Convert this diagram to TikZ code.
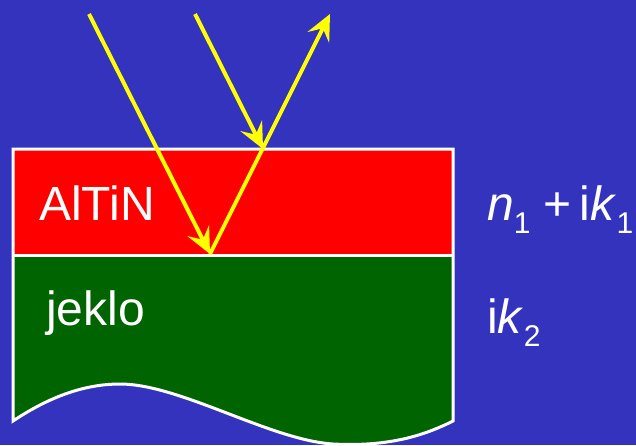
\documentclass[tikz,border=0pt]{standalone}
\usepackage{fontspec}
\setmainfont{Liberation Sans}
\usetikzlibrary{arrows.meta}
\definecolor{bgblue}{RGB}{51,51,190}
\definecolor{layerred}{RGB}{255,0,0}
\definecolor{steelgreen}{RGB}{0,100,0}
\definecolor{rayyellow}{RGB}{255,255,0}
\newcommand{\subnum}[1]{\raisebox{-13pt}{\fontsize{30}{30}\selectfont #1}}
\tikzset{
  ray/.style={draw=rayyellow, line width=4pt, -{Stealth[length=26pt,width=24pt,inset=10pt]}},
  border/.style={draw=white, line width=3pt},
  lbl/.style={text=white, inner sep=0pt, anchor=base west, font=\fontsize{48}{48}\selectfont},
}
\begin{document}
\begin{tikzpicture}[x=1pt,y=1pt]
\fill[bgblue] (0,0) rectangle (636,-445);
\useasboundingbox (0,0) rectangle (636,-445);
% layers
\fill[layerred] (13,-149) rectangle (453,-255);
\fill[steelgreen] (13,-255) -- (453,-255) -- (453,-421)
  .. controls (425,-435) and (390,-447) .. (333,-444)
  .. controls (270,-440) and (180,-384) .. (120,-384)
  .. controls (90,-384) and (55,-393) .. (13,-421) -- cycle;
\draw[border] (13,-421) -- (13,-149) -- (453,-149) -- (453,-421)
  .. controls (425,-435) and (390,-447) .. (333,-444)
  .. controls (270,-440) and (180,-384) .. (120,-384)
  .. controls (90,-384) and (55,-393) .. (13,-421) -- cycle;
\coordinate (ifl) at (13,-255);
\coordinate (ifr) at (453,-255);
\draw[border] (ifl) -- (ifr);
% rays
\coordinate (s1) at (89,-14);
\coordinate (p1) at (210,-254);
\coordinate (s2) at (195,-14);
\coordinate (p2) at (263,-149);
\coordinate (e) at (330,-14);
\draw[ray] (s1) -- (p1);
\draw[ray] (s2) -- (p2);
\draw[ray] (p1) -- (e);
% labels
\node[lbl] (altin) at (39,-220) {AlTiN};
\node[lbl] (jeklo) at (46,-325) {jeklo};
\node[lbl] (nk1) at (487,-220) {\textit{n}\subnum{1} +\hspace{8pt}i\textit{k}\subnum{1}};
\node[lbl] (k2) at (487,-333) {i\textit{k}\subnum{2}};
\end{tikzpicture}
\end{document}
